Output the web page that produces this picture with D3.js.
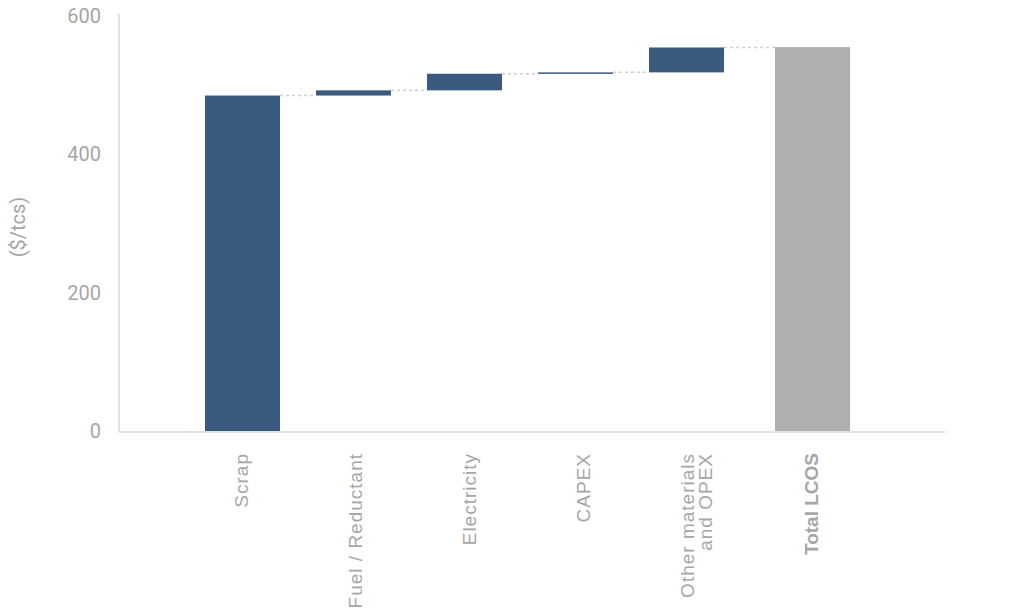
<!DOCTYPE html>
<html>
<head>
<meta charset="utf-8">
<script src="https://cdn.jsdelivr.net/npm/d3@7"></script>
<style>
  html, body { margin: 0; padding: 0; background: #fff; }
  svg { display: block; }
</style>
</head>
<body>
<svg id="chart" width="1010" height="612"></svg>
<script>
// ---- data ----
const categories = ["Scrap", "Fuel / Reductant", "Electricity", "CAPEX", "Other materials\nand OPEX", "Total LCOS"];
const deltas = [485, 7.5, 24, 2, 36];      // incremental contributions ($/tcs)
const totalValue = 555;                      // Total LCOS
const yTicks = [0, 200, 400, 600];
const yLabel = "($/tcs)";

// ---- layout ----
const plot = { left: 119, right: 945, top: 16, bottom: 431 };
const totalGap = 15;
const barColor = "#3b5a7f", totalColor = "#afafaf", textColor = "#a6a6a6", axisColor = "#d9d9d9";

const svg = d3.select("#chart");

const y = d3.scaleLinear().domain([0, 600]).range([plot.bottom, plot.top]);
// bar positions
const x = d3.scaleBand().domain(categories).range([187, 853]).paddingInner(0.324).paddingOuter(0.162);
const xPos = (c) => x(c) + (c === categories[categories.length - 1] ? totalGap : 0);
// label positions
const xl = d3.scalePoint().domain(categories).range([241, 811]);

// build waterfall segments
let cum = 0;
const segs = deltas.map((d, i) => {
  const s = { cat: categories[i], y0: cum, y1: cum + d, total: false };
  cum += d;
  return s;
});
segs.push({ cat: categories[categories.length - 1], y0: 0, y1: totalValue, total: true });

// axes lines
svg.append("line")
  .attr("x1", plot.left).attr("x2", plot.left)
  .attr("y1", y(600) - 2).attr("y2", y(0) + 1)
  .attr("stroke", axisColor).attr("stroke-width", 1.5);
svg.append("line")
  .attr("x1", plot.left).attr("x2", plot.right)
  .attr("y1", y(0) + 1).attr("y2", y(0) + 1)
  .attr("stroke", axisColor).attr("stroke-width", 1.5);

// y tick labels
const yAxis = d3.axisLeft(y).tickValues(yTicks).tickSize(0).tickPadding(18);
const gy = svg.append("g").attr("transform", `translate(${plot.left},0)`).call(yAxis);
gy.select(".domain").remove();
gy.selectAll("text")
  .attr("fill", textColor)
  .style("font-family", "Roboto, 'Noto Sans', sans-serif")
  .style("font-size", "20px");

// y label
svg.append("text")
  .attr("transform", `translate(25,227) rotate(-90)`)
  .attr("text-anchor", "middle")
  .attr("fill", textColor)
  .style("font-family", "Roboto, 'Noto Sans', sans-serif")
  .style("font-size", "20px")
  .text(yLabel);

// connectors
for (let i = 0; i < segs.length - 1; i++) {
  const a = segs[i], b = segs[i + 1];
  svg.append("line")
    .attr("x1", xPos(a.cat) + x.bandwidth())
    .attr("x2", xPos(b.cat))
    .attr("y1", y(a.y1)).attr("y2", y(a.y1))
    .attr("stroke", "#cfcfcf")
    .attr("stroke-width", 1.5)
    .attr("stroke-dasharray", "3,3");
}

// bars
svg.selectAll("rect.bar")
  .data(segs)
  .join("rect")
  .attr("class", "bar")
  .attr("x", d => xPos(d.cat))
  .attr("width", x.bandwidth())
  .attr("y", d => y(d.y1))
  .attr("height", d => Math.max(1.5, y(d.y0) - y(d.y1)))
  .attr("fill", d => d.total ? totalColor : barColor);

// category labels
categories.forEach((c, i) => {
  const cx = xl(c);
  const isTotal = i === categories.length - 1;
  const lines = c.split("\n");
  const t = svg.append("text")
    .attr("transform", `translate(${cx},453) rotate(-90)`)
    .attr("text-anchor", "end")
    .attr("fill", textColor)
    .style("font-family", "'Liberation Sans', Arial, sans-serif")
    .style("font-size", "19px")
    .style("font-weight", isTotal ? "bold" : "normal")
    .style("letter-spacing", isTotal ? "0px" : "1px");
  lines.forEach((ln, j) => {
    t.append("tspan")
      .attr("x", 0)
      .attr("dy", j === 0 ? `${0.35 - (lines.length - 1) * 0.5}em` : "0.95em")
      .text(ln);
  });
});
</script>
</body>
</html>
